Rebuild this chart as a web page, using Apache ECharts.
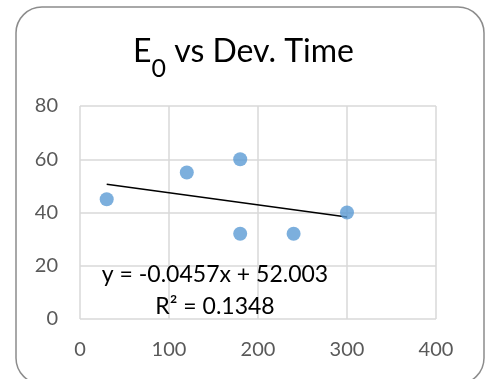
<!DOCTYPE html>
<html><head><meta charset="utf-8">
<script src="https://cdn.jsdelivr.net/npm/echarts@6/dist/echarts.min.js"></script>
<style>html,body{margin:0;padding:0;background:#fff}#c{width:487px;height:379px}</style>
</head><body><div id="c"></div>
<script>
const devTime = [30, 120, 180, 180, 240, 300];
const e0Values = [45, 55, 60, 32, 32, 40];
const trendX = [30, 300];
const trendY = [50.6, 38.3];
const xTicks = [0, 100, 200, 300, 400];
const yTicks = [0, 20, 40, 60, 80];
const equationText = 'y = -0.0457x + 52.003';
const r2Text = 'R² = 0.1348';

const FONT = 'Lato';
const chart = echarts.init(document.getElementById('c'));
chart.setOption({
  backgroundColor: '#fff',
  animation: false,
  title: {
    text: 'E{sub|0} vs Dev. Time',
    left: 'center', top: 17,
    textStyle: {
      fontFamily: FONT, fontSize: 32, fontWeight: 'normal', color: '#000',
      rich: { sub: { fontFamily: FONT, fontSize: 25, color: '#000', padding: [34, 0, 0, 0] } }
    }
  },
  grid: { left: 80, right: 51, top: 106, bottom: 60 },
  xAxis: {
    type: 'value', min: xTicks[0], max: xTicks[xTicks.length - 1], interval: 100,
    axisLine: { show: false }, axisTick: { show: false },
    axisLabel: { margin: 21, color: '#595959', fontFamily: FONT, fontSize: 20 },
    splitLine: { lineStyle: { color: '#d9d9d9', width: 1.5 } }
  },
  yAxis: {
    type: 'value', min: yTicks[0], max: yTicks[yTicks.length - 1], interval: 20,
    axisLine: { show: false }, axisTick: { show: false },
    axisLabel: { margin: 22, color: '#595959', fontFamily: FONT, fontSize: 20 },
    splitLine: { lineStyle: { color: '#d9d9d9', width: 1.5 } }
  },
  series: [
    {
      type: 'line', data: trendX.map((x, i) => [x, trendY[i]]),
      symbol: 'none', lineStyle: { color: '#000', width: 1.6 }, z: 3
    },
    {
      type: 'scatter', data: devTime.map((x, i) => [x, e0Values[i]]),
      symbolSize: 14, itemStyle: { color: '#5b9bd5' }, z: 4
    }
  ],
  graphic: [
    { type: 'rect', shape: { x: 16, y: 7, width: 468, height: 377, r: 26 },
      style: { fill: 'none', stroke: '#8c8c8c', lineWidth: 1.5 }, z: 10 },
    { type: 'text', x: 215, y: 275, style: { text: equationText, fontFamily: FONT, fontSize: 23, fill: '#000', align: 'center', verticalAlign: 'middle' }, z: 5 },
    { type: 'text', x: 215, y: 307, style: { text: r2Text, fontFamily: FONT, fontSize: 23, fill: '#000', align: 'center', verticalAlign: 'middle' }, z: 5 }
  ]
});
</script></body></html>
